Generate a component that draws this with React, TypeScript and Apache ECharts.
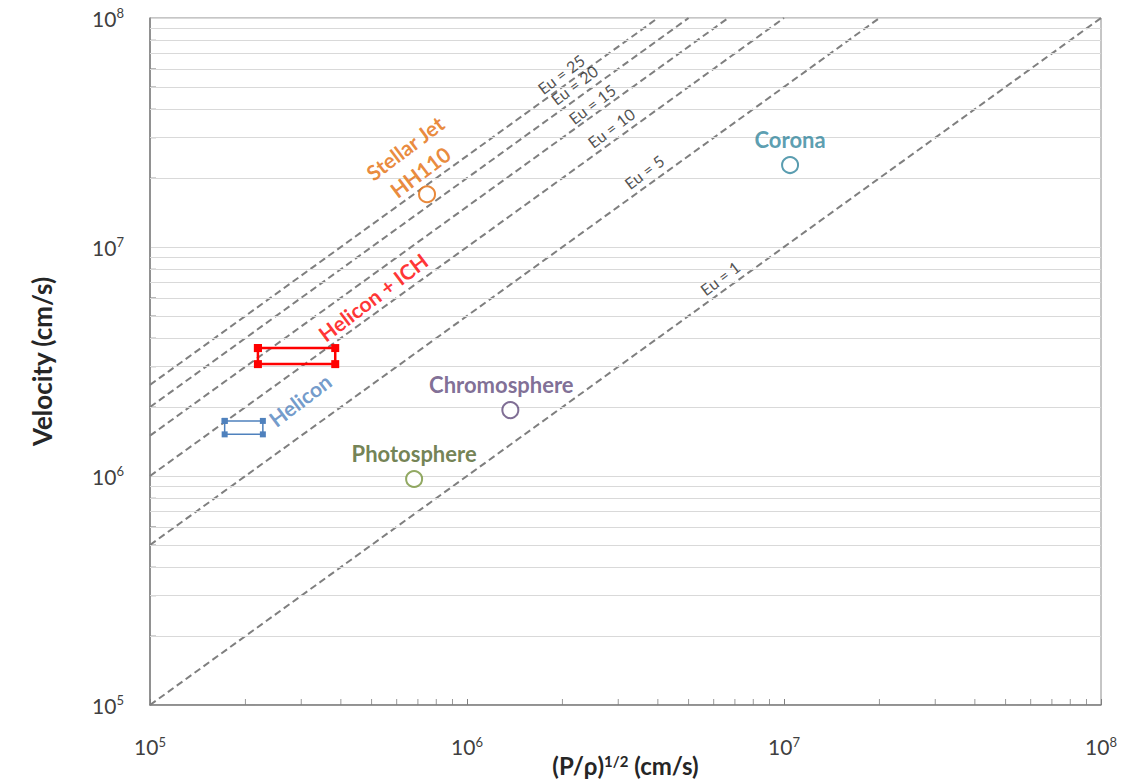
import React, { useEffect, useRef } from "react";
import * as echarts from "echarts";

const X_MIN = 1e5;
const X_MAX = 1e8;
const Y_MIN = 1e5;
const Y_MAX = 1e8;

const euNumbers = [1, 5, 10, 15, 20, 25];
const euLabelX = [6.28e6, 3.62e6, 2.85e6, 2.48e6, 2.18e6, 1.98e6];
const euLabelY = [7.32e6, 2.13e7, 3.31e7, 4.21e7, 5.1e7, 5.69e7];

const pointNames = ["Corona", "Chromosphere", "Photosphere", "HH110"];
const pointX = [1.045e7, 1.37e6, 6.81e5, 7.48e5];
const pointY = [2.28e7, 1.94e6, 9.7e5, 1.7e7];
const pointColors = ["#31859C", "#604A7B", "#77933C", "#E46C0A"];
const pointTextColors = ["#31859C", "#604A7B", "#4F6228", "#E46C0A"];

const heliconIchX = [2.19e5, 3.84e5];
const heliconIchY = [3.08e6, 3.62e6];
const heliconX = [1.72e5, 2.27e5];
const heliconY = [1.52e6, 1.74e6];

const rotatedLabels = ["Stellar Jet", "HH110", "Helicon + ICH", "Helicon"];
const rotatedLabelX = [6.37e5, 7.11e5, 5.05e5, 2.97e5];
const rotatedLabelY = [2.71e7, 2.13e7, 6.05e6, 2.15e6];
const rotatedLabelColors = ["#E46C0A", "#E46C0A", "#FF0000", "#4F81BD"];

const mantissas = [2, 3, 4, 5, 6, 7, 8, 9];
const decades = [1e5, 1e6, 1e7];
const minorValues: number[] = [];
decades.forEach((d) => mantissas.forEach((m) => minorValues.push(m * d)));

const FONT = "Lato";

function rectPath(xs: number[], ys: number[]) {
  return [
    [xs[0], ys[1]],
    [xs[1], ys[1]],
    [xs[1], ys[0]],
    [xs[0], ys[0]],
    [xs[0], ys[1]],
  ];
}

const powLabel = (v: number) => {
  const e = Math.round(Math.log10(v));
  return `{b|10}{s|${e}}`;
};

const labelRich = {
  b: { fontSize: 21, color: "#404040", fontFamily: FONT },
  s: { fontSize: 13, color: "#404040", fontFamily: FONT, verticalAlign: "top", padding: [0, 0, 10, 0] },
};

export default function App() {
  const ref = useRef<HTMLDivElement>(null);
  useEffect(() => {
    if (!ref.current) return;
    const chart = echarts.init(ref.current, null, { renderer: "svg" });

    const euSeries = euNumbers.map((eu) => ({
      type: "line",
      silent: true,
      symbol: "none",
      data: [
        [X_MIN, eu * X_MIN],
        [Math.min(X_MAX, Y_MAX / eu), Math.min(Y_MAX, eu * X_MAX)],
      ],
      lineStyle: { color: "#7f7f7f", width: 2, type: [7, 4] },
      z: 3,
    }));

    const option: any = {
      animation: false,
      backgroundColor: "#ffffff",
      textStyle: { fontFamily: FONT },
      grid: {
        left: 150,
        right: 24,
        top: 18,
        bottom: 79,
        containLabel: false,
        outerBoundsMode: "none",
        show: true,
        borderColor: "#8c8c8c",
        borderWidth: 1,
      },
      xAxis: {
        type: "log",
        logBase: 10,
        min: X_MIN,
        max: X_MAX,
        name: "{t|(P/ρ)}{s|1/2}{t| (cm/s)}",
        nameLocation: "middle",
        nameGap: 48,
        nameMoveOverlap: false,
        nameTextStyle: {
          fontSize: 24,
          fontWeight: "bold",
          fontFamily: FONT,
          rich: {
            t: { fontSize: 24, fontWeight: "bold", color: "#262626", fontFamily: FONT },
            s: { fontSize: 15, fontWeight: "bold", color: "#262626", fontFamily: FONT, verticalAlign: "top", padding: [0, 0, 10, 0] },
          },
        },
        axisLine: { show: true, lineStyle: { color: "#7f7f7f", width: 1.5 } },
        axisTick: { show: true, inside: true, length: 6, lineStyle: { color: "#7f7f7f" } },
        axisLabel: { margin: 30, fontSize: 21, fontFamily: FONT, color: "#404040", formatter: powLabel, rich: labelRich },
        splitLine: { show: false },
        minorTick: { show: false },
      },
      yAxis: {
        type: "log",
        logBase: 10,
        min: Y_MIN,
        max: Y_MAX,
        name: "Velocity (cm/s)",
        nameLocation: "middle",
        nameGap: 95,
        nameMoveOverlap: false,
        nameRotate: 90,
        nameTextStyle: { fontSize: 26, fontWeight: "bold", color: "#262626", fontFamily: FONT },
        axisLine: { show: true, lineStyle: { color: "#7f7f7f", width: 1.5 } },
        axisTick: { show: false },
        axisLabel: { margin: 26, fontSize: 21, fontFamily: FONT, color: "#404040", formatter: powLabel, rich: labelRich },
        splitLine: { show: true, lineStyle: { color: "#d9d9d9", width: 1 } },
        minorTick: { show: false },
      },
      series: [
        {
          type: "line",
          silent: true,
          symbol: "none",
          data: [],
          markLine: {
            silent: true,
            symbol: "none",
            label: { show: false },
            lineStyle: { color: "#d9d9d9", width: 1, type: "solid" },
            data: minorValues.map((v) => ({ yAxis: v })),
          },
          z: 1,
        },
        {
          type: "scatter",
          silent: true,
          symbol: "rect",
          symbolSize: [1, 6],
          symbolOffset: [0, -3],
          itemStyle: { color: "#7f7f7f" },
          data: minorValues.map((v) => [v, Y_MIN]),
          z: 2,
        },
        {
          type: "scatter",
          silent: true,
          symbol: "rect",
          symbolSize: [6, 1],
          symbolOffset: [3, 0],
          itemStyle: { color: "#7f7f7f" },
          data: minorValues.map((v) => [X_MIN, v]),
          z: 2,
        },
        ...euSeries,
        {
          type: "scatter",
          silent: true,
          symbolSize: 0,
          data: euNumbers.map((eu, i) => ({ value: [euLabelX[i], euLabelY[i]], name: `Eu = ${eu}` })),
          label: {
            show: true,
            position: "inside",
            rotate: 37,
            formatter: (p: any) => p.name,
            fontSize: 16,
            color: "#262626",
            fontFamily: FONT,
          },
          z: 6,
        },
        {
          type: "line",
          silent: true,
          data: rectPath(heliconIchX, heliconIchY),
          symbol: "rect",
          symbolSize: 8,
          showAllSymbol: true,
          lineStyle: { color: "#FF0000", width: 2.5 },
          itemStyle: { color: "#FF0000" },
          z: 5,
        },
        {
          type: "line",
          silent: true,
          data: rectPath(heliconX, heliconY),
          symbol: "rect",
          symbolSize: 6,
          showAllSymbol: true,
          lineStyle: { color: "#4F81BD", width: 1.5 },
          itemStyle: { color: "#4F81BD" },
          z: 5,
        },
        {
          type: "scatter",
          silent: true,
          symbol: "circle",
          symbolSize: 16,
          data: pointNames.map((n, i) => ({
            value: [pointX[i], pointY[i]],
            name: n,
            itemStyle: { color: "#ffffff", borderColor: pointColors[i], borderWidth: 2 },
            label: {
              show: n !== "HH110",
              position: "top",
              distance: 6,
              offset: n === "Chromosphere" ? [-9, 0] : [0, 0],
              formatter: n,
              fontSize: 22,
              fontWeight: "bold",
              color: pointTextColors[i],
              fontFamily: FONT,
            },
          })),
          z: 7,
        },
        {
          type: "scatter",
          silent: true,
          symbolSize: 0,
          data: rotatedLabels.map((t, i) => ({
            value: [rotatedLabelX[i], rotatedLabelY[i]],
            name: t,
            label: { color: rotatedLabelColors[i] },
          })),
          label: {
            show: true,
            position: "inside",
            rotate: 37,
            formatter: (p: any) => p.name,
            fontSize: 21,
            fontWeight: "bold",
            fontFamily: FONT,
          },
          z: 8,
        },
      ],
    };
    chart.setOption(option);
    return () => chart.dispose();
  }, []);
  return (
    <div
      ref={ref}
      style={{ position: "fixed", left: 0, top: 0, width: 1125, height: 784, background: "#fff" }}
    />
  );
}
